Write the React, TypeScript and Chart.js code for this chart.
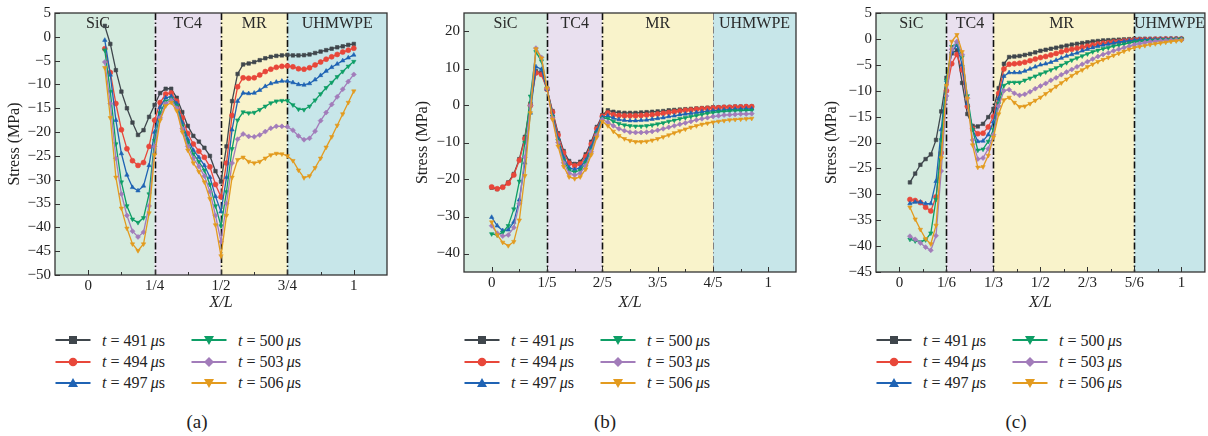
import { useEffect, useRef } from 'react';
import { Chart, registerables } from 'chart.js';

Chart.register(...registerables);

const FONT = '"Liberation Serif", "DejaVu Serif", serif';
const INK = '#222222';

// ---- series meta ----
const timeLabels = ['491', '494', '497', '500', '503', '506'];
const seriesColors = ['#3f464c', '#e8473a', '#1f63b4', '#0e9e66', '#a27cba', '#e39b1f'];
const markerStyles = ['rect', 'circle', 'triangle', 'triangle', 'rectRot', 'triangle'];
const markerRotations = [0, 0, 0, 180, 0, 180];

// ---- material layers ----
const layerNames = ['SiC', 'TC4', 'MR', 'UHMWPE'];
const layerFills = ['#d5ebdf', '#e9e0ef', '#f9f3cb', '#c7e6e9'];

// ================= panel (a) =================
const xA = [0.0625, 0.0833, 0.1042, 0.125, 0.1458, 0.1667, 0.1875, 0.2083, 0.2292, 0.25, 0.2708, 0.2917, 0.3125, 0.3333, 0.3542, 0.375, 0.3958, 0.4167, 0.4375, 0.4583, 0.4792, 0.5, 0.5208, 0.5417, 0.5625, 0.5833, 0.6042, 0.625, 0.6458, 0.6667, 0.6875, 0.7083, 0.7292, 0.75, 0.7708, 0.7917, 0.8125, 0.8333, 0.8542, 0.875, 0.8958, 0.9167, 0.9375, 0.9583, 0.9792, 1.0];
const a491 = [2.3, -1.5, -7, -11.5, -15, -18, -20.6, -19.6, -16.8, -14.3, -11.8, -10.9, -10.9, -12.8, -15.8, -18.7, -20.8, -22, -23.3, -25, -28.2, -30.4, -23, -13.5, -7.8, -5.8, -5.6, -5.3, -4.9, -4.5, -4.2, -4.0, -3.9, -3.8, -3.9, -3.9, -3.85, -3.7, -3.4, -3.1, -2.8, -2.5, -2.2, -2.0, -1.7, -1.5];
const a494 = [-2.5, -7.5, -14, -19.5, -23.5, -26, -27, -26.4, -23, -17.5, -13.8, -12, -11.8, -13.5, -17, -20.3, -22.5, -24, -25.3, -27.3, -31, -33.6, -26.5, -16.5, -10.5, -8.6, -8.7, -8.6, -8, -7.3, -6.8, -6.4, -6.2, -6.1, -6.3, -6.7, -6.8, -6.5, -5.9, -5.3, -4.7, -4.2, -3.7, -3.2, -2.8, -2.4];
const a497 = [-0.7, -8, -17.5, -24.5, -29, -31.6, -32.3, -31.3, -27, -20, -14.8, -12.8, -12.5, -14, -18, -21.5, -23.8, -25.3, -27, -29.5, -33.5, -36.7, -29.5, -19.5, -13.5, -11.8, -11.9, -11.8, -11.2, -10.4, -9.8, -9.5, -9.3, -9.3, -9.6, -10, -10.1, -9.8, -9, -8.1, -7.2, -6.4, -5.7, -5.0, -4.4, -3.8];
const a500 = [-2.8, -11.5, -22.5, -30.5, -35.5, -38.3, -39, -38, -33, -21.8, -16, -13.5, -13, -14.5, -18.7, -22.2, -24.6, -26.2, -28, -31, -35.5, -39.7, -32.5, -23.5, -17.5, -15.8, -16, -15.9, -15.3, -14.6, -13.9, -13.5, -13.4, -13.4, -14.3, -15.2, -15.3, -14.6, -13.3, -12, -10.7, -9.6, -8.4, -7.3, -6.2, -5.2];
const a503 = [-5.3, -14, -25.5, -33, -37.5, -40.8, -42, -41, -35.5, -23, -17, -14, -13.3, -15, -19.3, -23, -25.5, -27.2, -29.2, -32.5, -37.5, -43, -35, -26.5, -21.5, -20.4, -20.9, -21, -20.6, -19.9, -19.2, -18.8, -18.8, -18.9, -19.6, -20.8, -21.6, -21.3, -19.8, -17.6, -15.9, -14.2, -12.6, -11, -9.4, -7.9];
const a506 = [-6.5, -17, -29.5, -36, -40.2, -43.5, -44.9, -43.5, -37, -24.8, -17.5, -14.5, -13.8, -15.5, -20, -23.8, -26.5, -28.3, -30.5, -34, -39.5, -46, -37.5, -29.5, -25.8, -25.3, -26.2, -26.5, -26.2, -25.5, -24.8, -24.5, -24.6, -25.0, -26, -28, -29.6, -29.2, -27.5, -25.5, -23.2, -21, -18.6, -16.2, -13.8, -11.4];
const xTicksA = [0, 0.25, 0.5, 0.75, 1];
const xTickLabelsA = ['0', '1/4', '1/2', '3/4', '1'];
const xMinorA = [0.125, 0.375, 0.625, 0.875];
const yTicksA = [5, 0, -5, -10, -15, -20, -25, -30, -35, -40, -45, -50];
const boundsA = [0.25, 0.5, 0.75];
const layerLabelXA = [0.037, 0.375, 0.625, 0.9375];

// ================= panel (b) =================
const xB = [0, 0.02, 0.04, 0.06, 0.08, 0.1, 0.12, 0.14, 0.16, 0.18, 0.2, 0.22, 0.24, 0.26, 0.28, 0.3, 0.32, 0.34, 0.36, 0.38, 0.4, 0.42, 0.44, 0.46, 0.48, 0.5, 0.52, 0.54, 0.56, 0.58, 0.6, 0.62, 0.64, 0.66, 0.68, 0.7, 0.72, 0.74, 0.76, 0.78, 0.8, 0.82, 0.84, 0.86, 0.88, 0.9, 0.92, 0.94];
const b491 = [-22.2, -22.6, -22.0, -20.8, -18.5, -14.5, -8.5, 0.5, 9.3, 8.8, 4.5, -1.5, -7.5, -12.3, -15, -15.8, -15.2, -13.2, -9.8, -5.8, -2.6, -1.3, -1.7, -1.9, -2.0, -2.0, -2.0, -1.9, -1.8, -1.7, -1.6, -1.5, -1.3, -1.2, -1.1, -1.0, -0.9, -0.8, -0.7, -0.6, -0.5, -0.5, -0.4, -0.4, -0.3, -0.3, -0.3, -0.3];
const b494 = [-22.0, -22.5, -22.1, -21.0, -18.8, -14.8, -9, 0, 8.8, 8.4, 4.4, -1.8, -8, -12.8, -15.6, -16.3, -15.8, -13.8, -10.4, -6.3, -2.9, -2.0, -2.5, -2.7, -2.8, -2.8, -2.8, -2.7, -2.6, -2.5, -2.3, -2.1, -1.9, -1.7, -1.5, -1.3, -1.2, -1.0, -0.9, -0.8, -0.7, -0.6, -0.5, -0.5, -0.4, -0.4, -0.3, -0.3];
const b497 = [-30.2, -32.5, -33.8, -33.6, -31.5, -25.5, -15.5, -2, 10.5, 9.8, 4.4, -2.5, -9, -14, -16.8, -17.3, -16.8, -14.8, -11.2, -6.8, -3.2, -2.8, -3.4, -3.8, -4.0, -4.1, -4.1, -4.0, -3.9, -3.7, -3.5, -3.3, -3.0, -2.8, -2.5, -2.3, -2.1, -1.9, -1.7, -1.5, -1.4, -1.3, -1.2, -1.1, -1.0, -1.0, -0.9, -0.9];
const b500 = [-34.7, -35.0, -34.3, -32.5, -28, -20.5, -10, 2.5, 14.5, 12, 4.6, -3, -9.5, -14.8, -17.5, -18, -17.5, -15.5, -12, -7.5, -3.5, -3.5, -4.3, -4.9, -5.3, -5.5, -5.6, -5.6, -5.5, -5.3, -5.0, -4.7, -4.3, -4.0, -3.6, -3.3, -3.0, -2.7, -2.4, -2.1, -1.9, -1.7, -1.6, -1.5, -1.4, -1.4, -1.3, -1.3];
const b503 = [-32.5, -34.5, -35.3, -35, -33, -26.5, -14, 0, 15.5, 13, 4.6, -3.3, -10, -15.5, -18.3, -18.8, -18.3, -16.3, -12.5, -8, -3.8, -4.5, -5.5, -6.3, -6.8, -7.2, -7.3, -7.3, -7.2, -7.0, -6.7, -6.3, -5.9, -5.5, -5.1, -4.7, -4.3, -3.9, -3.6, -3.3, -3.0, -2.8, -2.6, -2.5, -2.4, -2.3, -2.3, -2.2];
const b506 = [-31.5, -35, -37, -37.9, -36.8, -31, -19, -2, 15.3, 12.8, 4.7, -3.8, -11, -16.5, -19.3, -19.8, -19.3, -17.2, -13.3, -8.6, -4.3, -5.5, -7, -8.2, -9, -9.5, -9.8, -9.8, -9.7, -9.4, -9.0, -8.5, -8.0, -7.4, -6.9, -6.4, -5.9, -5.5, -5.1, -4.8, -4.5, -4.3, -4.1, -3.9, -3.8, -3.7, -3.6, -3.5];
const xTicksB = [0, 0.2, 0.4, 0.6, 0.8, 1];
const xTickLabelsB = ['0', '1/5', '2/5', '3/5', '4/5', '1'];
const xMinorB = [0.1, 0.3, 0.5, 0.7, 0.9];
const yTicksB = [20, 10, 0, -10, -20, -30, -40];
const boundsB = [0.2, 0.4, 0.8];
const layerLabelXB = [0.05, 0.3, 0.6, 0.95];

// ================= panel (c) =================
const xC = [0.037, 0.0556, 0.0741, 0.0926, 0.1111, 0.1296, 0.1481, 0.1667, 0.1852, 0.2037, 0.2222, 0.2407, 0.2593, 0.2778, 0.2963, 0.3148, 0.3333, 0.3519, 0.3704, 0.3889, 0.4074, 0.4259, 0.4444, 0.463, 0.4815, 0.5, 0.5185, 0.537, 0.5556, 0.5741, 0.5926, 0.6111, 0.6296, 0.6481, 0.6667, 0.6852, 0.7037, 0.7222, 0.7407, 0.7593, 0.7778, 0.7963, 0.8148, 0.8333, 0.8519, 0.8704, 0.8889, 0.9074, 0.9259, 0.9444, 0.963, 0.9815, 1.0];
const c491 = [-27.7, -26, -24.3, -23.2, -22.3, -19.5, -14, -7.5, -2.8, -2.2, -8.5, -14.5, -16.8, -16.9, -16.4, -15.1, -13.5, -9.5, -4.8, -3.5, -3.4, -3.3, -3.1, -2.9, -2.6, -2.3, -2.1, -1.9, -1.7, -1.5, -1.3, -1.1, -0.95, -0.8, -0.65, -0.5, -0.4, -0.3, -0.25, -0.2, -0.15, -0.1, -0.05, 0, 0, 0, 0, 0, 0, 0, 0, 0, 0];
const c494 = [-31, -31.2, -31.6, -32.5, -33.2, -30.5, -22, -10, -4.8, -3.0, -6, -13, -17.3, -18.3, -18.2, -17, -15, -10.5, -5.8, -4.9, -4.8, -4.7, -4.5, -4.2, -3.9, -3.6, -3.4, -3.1, -2.8, -2.5, -2.2, -2.0, -1.8, -1.6, -1.4, -1.2, -1.0, -0.85, -0.75, -0.6, -0.5, -0.4, -0.3, -0.2, -0.15, -0.1, -0.1, -0.05, -0.05, 0, 0, 0, 0];
const c497 = [-31.8, -31.5, -31.5, -31.8, -31.8, -27.5, -17.5, -8, -2.5, -1.2, -5, -12.5, -17.5, -19.8, -19.7, -18.5, -16, -11.5, -7.2, -6.5, -6.5, -6.5, -6.2, -5.8, -5.4, -5.0, -4.8, -4.5, -4.1, -3.7, -3.3, -3.0, -2.7, -2.3, -2.0, -1.7, -1.4, -1.2, -1.0, -0.8, -0.6, -0.5, -0.35, -0.25, -0.2, -0.15, -0.1, -0.1, -0.05, -0.05, 0, 0, 0];
const c500 = [-38.7, -39, -39.2, -38.8, -37.5, -31, -19.5, -8, -1.5, -0.8, -3.5, -11, -17.5, -21.5, -21.3, -19.8, -17.5, -12.5, -9, -8.4, -8.4, -8.4, -8.0, -7.6, -7.2, -6.8, -6.4, -6.0, -5.6, -5.1, -4.6, -4.1, -3.7, -3.3, -2.9, -2.5, -2.2, -1.9, -1.7, -1.4, -1.2, -1.0, -0.8, -0.6, -0.5, -0.4, -0.3, -0.25, -0.2, -0.15, -0.1, -0.05, 0];
const c503 = [-38.1, -38.7, -39.4, -40.2, -40.8, -38, -25.5, -11, -2, -0.5, -3, -11.5, -19.5, -23.2, -23, -21.2, -18.5, -13, -10, -9.8, -10.5, -10.9, -10.7, -10.2, -9.6, -9.1, -8.6, -8.0, -7.5, -6.9, -6.4, -5.9, -5.4, -4.9, -4.4, -3.9, -3.4, -3.0, -2.7, -2.3, -2.0, -1.7, -1.4, -1.1, -0.9, -0.7, -0.55, -0.45, -0.35, -0.3, -0.25, -0.2, -0.2];
const c506 = [-32.5, -34.8, -36.8, -38.6, -39.6, -36, -23, -9, -0.5, 0.8, -2.5, -11.5, -20.5, -24.8, -24.7, -22.5, -19, -14.5, -11.8, -11.3, -12.3, -13.1, -13, -12.5, -11.9, -11.3, -10.6, -9.9, -9.2, -8.5, -7.8, -7.1, -6.5, -6.0, -5.4, -4.9, -4.4, -4.0, -3.6, -3.2, -2.8, -2.4, -2.0, -1.7, -1.5, -1.3, -1.1, -0.95, -0.8, -0.65, -0.5, -0.4, -0.3];
const xTicksC = [0, 1 / 6, 1 / 3, 1 / 2, 2 / 3, 5 / 6, 1];
const xTickLabelsC = ['0', '1/6', '1/3', '1/2', '2/3', '5/6', '1'];
const xMinorC = [1 / 12, 3 / 12, 5 / 12, 7 / 12, 9 / 12, 11 / 12];
const yTicksC = [5, 0, -5, -10, -15, -20, -25, -30, -35, -40, -45];
const boundsC = [1 / 6, 1 / 3, 5 / 6];
const layerLabelXC = [0.042, 0.25, 0.575, 0.958];

type Panel = {
  caption: string;
  xs: number[];
  series: number[][];
  xMin: number; xMax: number; yMin: number; yMax: number;
  xTicks: number[]; xTickLabels: string[]; xMinor: number[]; yTicks: number[];
  bounds: number[]; lightBounds: boolean[]; labelX: number[];
  // canvas placement and plot box (canvas pixels)
  left: number; width: number; height: number;
  plotLeft: number; plotRight: number; plotTop: number; plotBottom: number;
  yTitlePad: number;
  captionX: number;
};

const panels: Panel[] = [
  {
    caption: '(a)', xs: xA, series: [a491, a494, a497, a500, a503, a506],
    xMin: -0.125, xMax: 1.125, yMin: -50, yMax: 5,
    xTicks: xTicksA, xTickLabels: xTickLabelsA, xMinor: xMinorA, yTicks: yTicksA,
    bounds: boundsA, lightBounds: [false, false, false], labelX: layerLabelXA,
    left: 0, width: 400, height: 320, plotLeft: 55, plotRight: 387, plotTop: 10, plotBottom: 275,
    yTitlePad: 5, captionX: 197,
  },
  {
    caption: '(b)', xs: xB, series: [b491, b494, b497, b500, b503, b506],
    xMin: -0.1, xMax: 1.1, yMin: -45, yMax: 25,
    xTicks: xTicksB, xTickLabels: xTickLabelsB, xMinor: xMinorB, yTicks: yTicksB,
    bounds: boundsB, lightBounds: [false, false, true], labelX: layerLabelXB,
    left: 410, width: 400, height: 320, plotLeft: 54, plotRight: 386, plotTop: 8, plotBottom: 272,
    yTitlePad: 3, captionX: 605,
  },
  {
    caption: '(c)', xs: xC, series: [c491, c494, c497, c500, c503, c506],
    xMin: -1 / 12, xMax: 13 / 12, yMin: -45, yMax: 5,
    xTicks: xTicksC, xTickLabels: xTickLabelsC, xMinor: xMinorC, yTicks: yTicksC,
    bounds: boundsC, lightBounds: [false, false, false], labelX: layerLabelXC,
    left: 820, width: 388, height: 320, plotLeft: 56, plotRight: 387, plotTop: 8, plotBottom: 272,
    yTitlePad: 2, captionX: 1016,
  },
];

const minus = (s: string) => s.replace('-', '\u2212');

function decorPlugin(p: Panel) {
  return {
    id: 'layerDecor',
    beforeDatasetsDraw(chart: any) {
      const { ctx, chartArea: a } = chart;
      const xs = chart.scales.x;
      const edges = [p.xMin, ...p.bounds, p.xMax];
      ctx.save();
      for (let i = 0; i < 4; i++) {
        const x0 = xs.getPixelForValue(edges[i]);
        const x1 = xs.getPixelForValue(edges[i + 1]);
        ctx.fillStyle = layerFills[i];
        ctx.fillRect(x0, a.top, x1 - x0, a.bottom - a.top);
      }
      ctx.fillStyle = '#2a2a2a';
      ctx.font = `16px ${FONT}`;
      ctx.textAlign = 'center';
      ctx.textBaseline = 'middle';
      for (let i = 0; i < 4; i++) {
        ctx.fillText(layerNames[i], xs.getPixelForValue(p.labelX[i]), a.top + 11);
      }
      p.bounds.forEach((b, i) => {
        const x = Math.round(xs.getPixelForValue(b)) + 0.5;
        const light = p.lightBounds[i];
        ctx.strokeStyle = light ? '#808080' : '#111111';
        ctx.lineWidth = light ? 1 : 1.6;
        ctx.setLineDash([7, 2.5, 1.5, 2.5]);
        ctx.beginPath();
        ctx.moveTo(x, a.top);
        ctx.lineTo(x, a.bottom);
        ctx.stroke();
      });
      ctx.restore();
    },
    afterDraw(chart: any) {
      const { ctx, chartArea: a } = chart;
      const xs = chart.scales.x;
      const ys = chart.scales.y;
      ctx.save();
      ctx.strokeStyle = '#333333';
      ctx.lineWidth = 1;
      ctx.beginPath();
      p.xTicks.forEach((v) => {
        const x = Math.round(xs.getPixelForValue(v)) + 0.5;
        ctx.moveTo(x, a.bottom);
        ctx.lineTo(x, a.bottom - 5);
      });
      p.xMinor.forEach((v) => {
        const x = Math.round(xs.getPixelForValue(v)) + 0.5;
        ctx.moveTo(x, a.bottom);
        ctx.lineTo(x, a.bottom - 3);
      });
      p.yTicks.forEach((v) => {
        const y = Math.round(ys.getPixelForValue(v)) + 0.5;
        ctx.moveTo(a.left, y);
        ctx.lineTo(a.left + 5, y);
      });
      ctx.stroke();
      ctx.lineWidth = 1.3;
      ctx.strokeRect(a.left, a.top, a.right - a.left, a.bottom - a.top);
      ctx.restore();
    },
  };
}

function PanelChart({ p }: { p: Panel }) {
  const ref = useRef<HTMLCanvasElement | null>(null);
  useEffect(() => {
    if (!ref.current) return;
    const chart = new Chart(ref.current, {
      type: 'line',
      data: {
        datasets: p.series.map((ys, i) => ({
          label: `t = ${timeLabels[i]} μs`,
          data: p.xs.map((x, k) => ({ x, y: ys[k] })),
          borderColor: seriesColors[i],
          backgroundColor: seriesColors[i],
          borderWidth: 1.3,
          pointRadius: 2.5,
          pointHoverRadius: 2.5,
          pointBorderWidth: 0.6,
          pointStyle: markerStyles[i] as any,
          pointRotation: markerRotations[i],
          tension: 0,
          fill: false,
          order: 5 - i,
        })),
      },
      options: {
        responsive: false,
        animation: false,
        devicePixelRatio: 1,
        events: [],
        layout: { padding: { top: p.plotTop, right: p.width - p.plotRight, left: 0, bottom: 0 } },
        plugins: { legend: { display: false }, tooltip: { enabled: false } },
        scales: {
          x: {
            type: 'linear',
            min: p.xMin,
            max: p.xMax,
            grid: { display: false, drawTicks: false, tickLength: 0 },
            border: { display: false },
            afterBuildTicks: (s: any) => { s.ticks = p.xTicks.map((v) => ({ value: v })); },
            afterFit: (s: any) => { s.height = p.height - p.plotBottom; },
            ticks: {
              autoSkip: false,
              maxRotation: 0,
              padding: 2,
              color: INK,
              font: { family: FONT, size: 15 },
              callback: (v: any) => {
                const idx = p.xTicks.findIndex((t) => Math.abs(t - Number(v)) < 1e-6);
                return idx >= 0 ? p.xTickLabels[idx] : '';
              },
            },
            title: {
              display: true,
              text: 'X/L',
              color: INK,
              font: { family: FONT, size: 16, style: 'italic' },
              padding: { top: 0, bottom: 8 },
            },
          },
          y: {
            type: 'linear',
            min: p.yMin,
            max: p.yMax,
            grid: { display: false, drawTicks: false, tickLength: 0 },
            border: { display: false },
            afterBuildTicks: (s: any) => { s.ticks = p.yTicks.map((v) => ({ value: v })); },
            afterFit: (s: any) => { s.width = p.plotLeft; },
            ticks: {
              autoSkip: false,
              padding: 4,
              color: INK,
              font: { family: FONT, size: 15 },
              callback: (v: any) => minus(String(v)),
            },
            title: {
              display: true,
              text: 'Stress (MPa)',
              color: INK,
              font: { family: FONT, size: 16 },
              padding: { top: p.yTitlePad, bottom: 0 },
            },
          },
        },
      },
      plugins: [decorPlugin(p)],
    } as any);
    return () => chart.destroy();
  }, [p]);

  return (
    <canvas
      ref={ref}
      width={p.width}
      height={p.height}
      style={{ position: 'absolute', left: p.left, top: 0, width: p.width, height: p.height, display: 'block' }}
    />
  );
}

function Marker({ i }: { i: number }) {
  const c = seriesColors[i];
  const cx = 18;
  const cy = 7;
  let shape;
  if (i === 0) shape = <rect x={cx - 4} y={cy - 4} width={8} height={8} fill={c} />;
  else if (i === 1) shape = <circle cx={cx} cy={cy} r={4.3} fill={c} />;
  else if (i === 2) shape = <polygon points={`${cx},${cy - 5} ${cx + 5},${cy + 4} ${cx - 5},${cy + 4}`} fill={c} />;
  else if (i === 4) shape = <polygon points={`${cx},${cy - 5} ${cx + 5},${cy} ${cx},${cy + 5} ${cx - 5},${cy}`} fill={c} />;
  else shape = <polygon points={`${cx - 5},${cy - 4} ${cx + 5},${cy - 4} ${cx},${cy + 5}`} fill={c} />;
  return (
    <svg width={36} height={14} style={{ display: 'block', flex: 'none' }}>
      <line x1={0.5} y1={cy} x2={35.5} y2={cy} stroke={c} strokeWidth={2.2} />
      {shape}
    </svg>
  );
}

const legendRows = [[0, 3], [1, 4], [2, 5]];

function LegendBlock({ left }: { left: number }) {
  return (
    <div style={{ position: 'absolute', left, top: 329.5, fontFamily: FONT, fontSize: 16, color: INK }}>
      {legendRows.map((row, r) => (
        <div key={r} style={{ display: 'flex', alignItems: 'center', height: 21.4 }}>
          {row.map((i) => (
            <div key={i} style={{ display: 'flex', alignItems: 'center', width: 136 }}>
              <Marker i={i} />
              <span style={{ marginLeft: 11, whiteSpace: 'nowrap', lineHeight: '19px' }}>
                <i>t</i> = {timeLabels[i]}{'\u2009'}<i>μ</i>s
              </span>
            </div>
          ))}
        </div>
      ))}
    </div>
  );
}

export default function App() {
  return (
    <div style={{ position: 'absolute', left: 0, top: 0, width: 1208, height: 436, background: '#ffffff', overflow: 'hidden' }}>
      {panels.map((p) => (
        <div key={p.caption}>
          <PanelChart p={p} />
          <LegendBlock left={p.left + p.plotLeft} />
          <div
            style={{
              position: 'absolute', left: p.captionX - 40, top: 410, width: 80, textAlign: 'center',
              fontFamily: FONT, fontSize: 19, lineHeight: '23px', color: INK,
            }}
          >
            {p.caption}
          </div>
        </div>
      ))}
    </div>
  );
}
